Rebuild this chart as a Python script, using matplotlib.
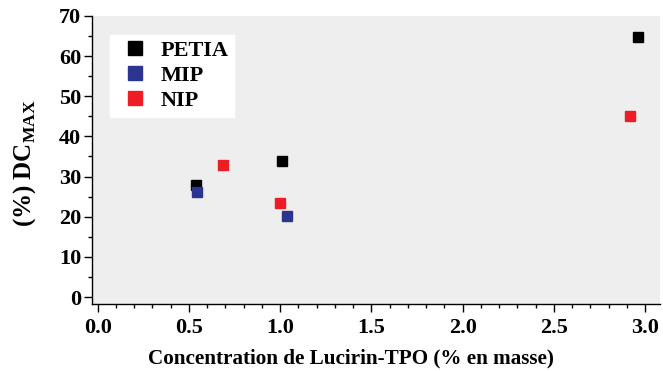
import matplotlib
matplotlib.use("Agg")
import matplotlib.pyplot as plt
from matplotlib.ticker import MultipleLocator

plt.rcParams['font.family'] = ['Liberation Serif', 'DejaVu Serif']
plt.rcParams['font.weight'] = 'bold'
plt.rcParams['mathtext.fontset'] = 'custom'
plt.rcParams['mathtext.rm'] = 'Liberation Serif:bold'
plt.rcParams['mathtext.bf'] = 'Liberation Serif:bold'

petia_x = [0.54, 1.01, 2.96]
petia_y = [28.0, 33.8, 64.8]
mip_x = [0.545, 1.04]
mip_y = [26.2, 20.1]
nip_x = [0.685, 1.0, 2.92]
nip_y = [33.0, 23.5, 45.0]
xtick_labels = ['0.0', '0.5', '1.0', '1.5', '2.0', '2.5', '3.0']

fig = plt.figure(figsize=(6.63, 3.71), dpi=100)
ax = fig.add_axes([0.139, 0.181, 0.856, 0.776])
ax.set_facecolor('#eeeeee')

ms = 7.0
ax.plot(petia_x, petia_y, 's', color='#000000', ms=ms, label='PETIA', clip_on=False)
ax.plot(mip_x, mip_y, 's', color='#2b3590', ms=ms, label='MIP', clip_on=False)
ax.plot(nip_x, nip_y, 's', color='#ee1c25', ms=ms, label='NIP', clip_on=False)

ax.set_xlim(-0.03, 3.08)
ax.set_ylim(-1.7, 70)
ax.xaxis.set_minor_locator(MultipleLocator(0.1))
ax.yaxis.set_major_locator(MultipleLocator(10))
ax.yaxis.set_minor_locator(MultipleLocator(5))
ax.set_xticks([float(t) for t in xtick_labels])
ax.set_xticklabels(xtick_labels)

for s in ['top', 'right']:
    ax.spines[s].set_visible(False)
for s in ['left', 'bottom']:
    ax.spines[s].set_linewidth(1.0)
    ax.spines[s].set_color('black')

ax.tick_params(which='major', direction='out', length=5.5, width=1, labelsize=16, pad=2.5)
ax.tick_params(axis='x', which='major', pad=5)
ax.tick_params(which='minor', direction='out', length=3, width=1)
for lab in ax.get_xticklabels() + ax.get_yticklabels():
    lab.set_fontweight('bold')

ax.set_xlabel('Concentration de Lucirin-TPO (% en masse)', fontsize=15.2, fontweight='bold')
ax.xaxis.set_label_coords(0.456, -0.155)
ax.set_ylabel(r'(%) DC$_{\mathrm{MAX}}$', fontsize=18, fontweight='bold')
ax.yaxis.set_label_coords(-0.096, 0.49)

leg = ax.legend(loc='upper left', bbox_to_anchor=(0.0315, 0.934), frameon=True, fancybox=False,
                prop={'family': 'Liberation Serif', 'weight': 'bold', 'size': 16},
                handletextpad=0.28, labelspacing=0.2, borderpad=0.25, handlelength=1.73,
                borderaxespad=0, markerscale=1.4)
leg.get_frame().set_facecolor('white')
leg.get_frame().set_edgecolor('white')
leg.get_frame().set_alpha(1)

fig.savefig('out.png', dpi=100, facecolor='white')
